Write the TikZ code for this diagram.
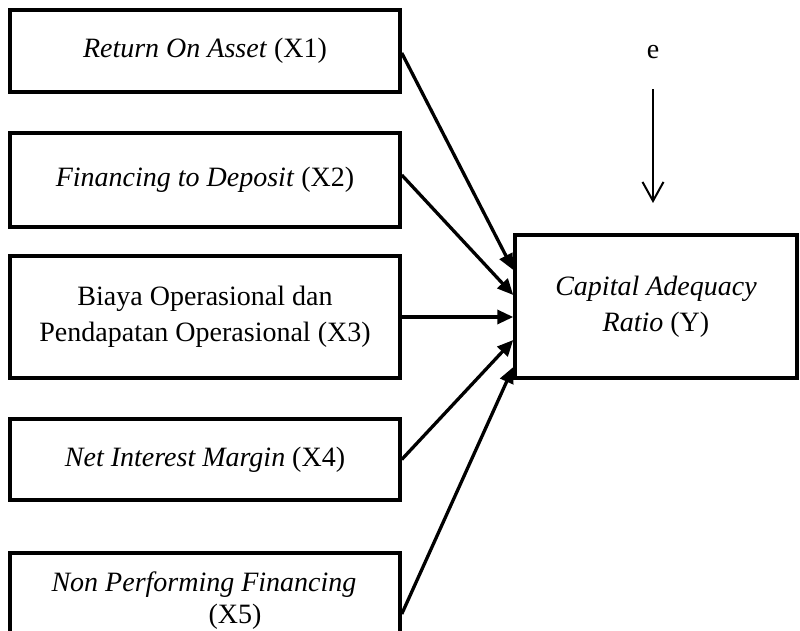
\documentclass[tikz,border=0pt]{standalone}
\usepackage{fontspec}
\setmainfont{Liberation Serif}
\usetikzlibrary{arrows.meta}
\begin{document}
\begin{tikzpicture}[x=1pt,y=1pt,
  txt/.style={font=\fontsize{28}{36}\selectfont, align=center, inner sep=0pt},
  box/.style={txt, draw, line width=3.5pt, minimum width=390pt},
  conn/.style={line width=3.3pt, -{Triangle[length=16pt,width=14pt]}},
  earrow/.style={line width=2pt, -{Straight Barb[length=19pt,width=21pt,line width=2pt]}}]
\useasboundingbox (0,0) rectangle (800,630);
\clip (0,0) rectangle (800,630);
\node[box, minimum height=82pt]  (x1) at (205,579)   {\textit{Return On Asset} (X1)};
\node[box, minimum height=94pt]  (x2) at (205,450)   {\textit{Financing to Deposit} (X2)};
\node[box, minimum height=122pt] (x3) at (205,313)   {Biaya Operasional dan\\Pendapatan Operasional (X3)};
\node[box, minimum height=81pt]  (x4) at (205,170.5) {\textit{Net Interest Margin} (X4)};
\node[box, minimum height=122pt] (x5) at (205,16)    {};
\node[txt] (x5a) at (204,45) {\textit{Non Performing Financing}};
\node[txt] (x5b) at (235,13) {(X5)};
\node[box, minimum width=282pt, minimum height=143pt] (y) at (656,323.5)
  {\textit{Capital Adequacy}\\\textit{Ratio} (Y)};
\node[txt, minimum height=74pt] (e) at (653,578) {e};
\coordinate (etip) at (653,427);
\draw[earrow] (e.south) -- (etip);
\draw[conn] ([yshift=-2pt]x1.east) -- ([yshift=36.5pt]y.west);
\draw[conn] ([yshift=5pt]x2.east) -- ([yshift=11.5pt]y.west);
\draw[conn] (x3.east) -- ([yshift=-10.5pt]y.west);
\draw[conn] (x4.east) -- ([yshift=-33.5pt]y.west);
\draw[conn] (x5.east) -- ([yshift=-60.5pt]y.west);
\end{tikzpicture}
\end{document}
